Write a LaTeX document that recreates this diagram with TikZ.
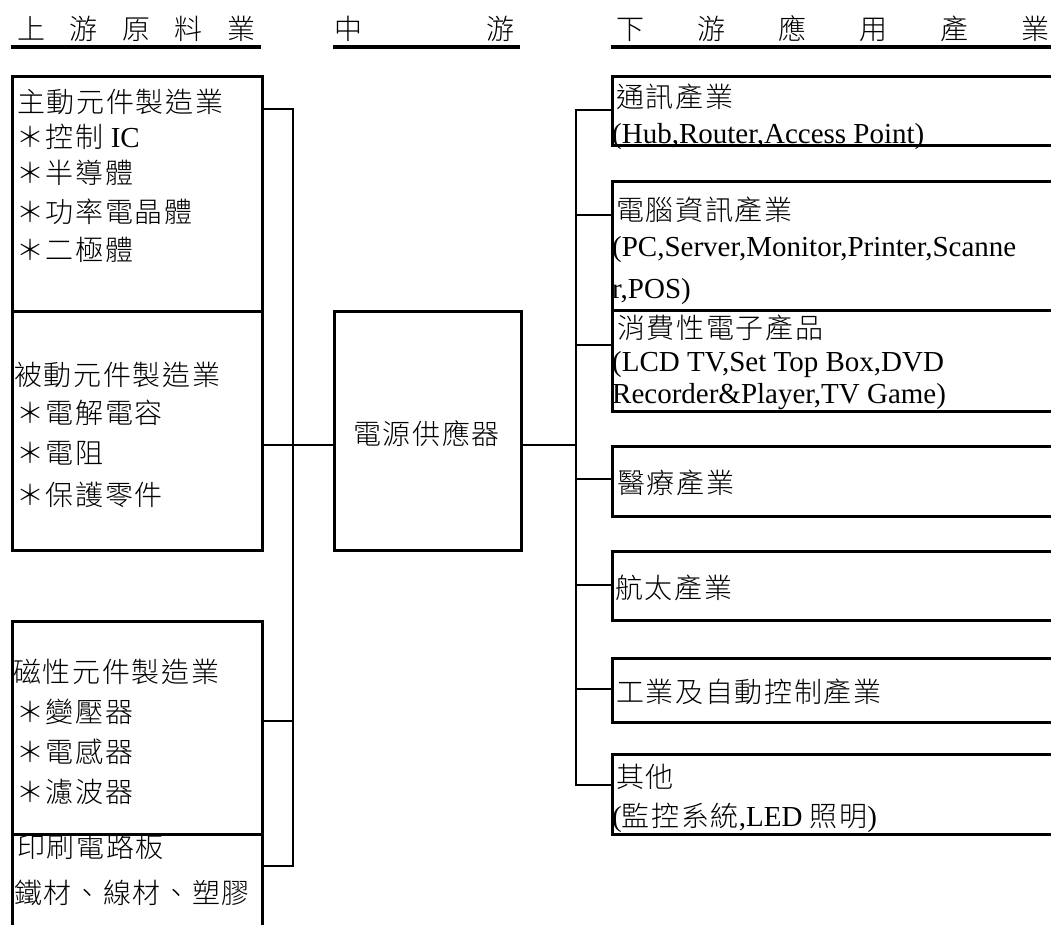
\documentclass[tikz,border=0pt]{standalone}
\usepackage{fontspec}
\setmainfont{Liberation Serif}
\newfontfamily\cjk{Noto Sans CJK TC}[UprightFont=* Light, LetterSpace=6]
\usetikzlibrary{calc}
\newcommand\fsz{\fontsize{29}{29}\selectfont}
\newcommand\zsz{\fontsize{28}{28}\selectfont}
\newcommand\zh[1]{{\zsz\cjk #1}}
\tikzset{
  boxs/.style={draw, line width=2.6pt, rectangle, inner sep=0pt, anchor=north west},
  txt/.style={anchor=base west, inner sep=0pt, font=\fsz},
  conn/.style={line width=2.6pt},
  uline/.style={line width=3.2pt}
}
\begin{document}
\begin{tikzpicture}[x=1pt,y=-1pt]
\clip (0,0) rectangle (1051,924);
\useasboundingbox (0,0) rectangle (1051,924);
\fill[white] (0,0) rectangle (1051,924);
% headers
\node[txt] (h1) at (17,39) {\makebox[238pt]{\zh{上}\hfill\zh{游}\hfill\zh{原}\hfill\zh{料}\hfill\zh{業}}};
\node[txt] (h2) at (334,39) {\makebox[180pt]{\zh{中}\hfill\zh{游}}};
\node[txt] (h3) at (616,39) {\makebox[433pt]{\zh{下}\hfill\zh{游}\hfill\zh{應}\hfill\zh{用}\hfill\zh{產}\hfill\zh{業}}};
\coordinate (u1a) at (11,47); \coordinate (u1b) at (261,47);
\coordinate (u2a) at (333,47); \coordinate (u2b) at (520,47);
\coordinate (u3a) at (611,47); \coordinate (u3b) at (1055,47);
\draw[uline] (u1a) -- (u1b);
\draw[uline] (u2a) -- (u2b);
\draw[uline] (u3a) -- (u3b);
% left boxes
\node[boxs, minimum width=250pt, minimum height=235pt] (L1) at (11,75) {};
\node[boxs, minimum width=250pt, minimum height=239pt] (L2) at (11,310) {};
\node[boxs, minimum width=250pt, minimum height=213pt] (L3) at (11,620) {};
\node[boxs, minimum width=250pt, minimum height=110pt] (L4) at (11,833) {};
% middle box
\node[boxs, minimum width=187pt, minimum height=239pt] (M) at (333,310) {};
% right boxes
\node[boxs, minimum width=460pt, minimum height=69pt] (R1) at (611,75) {};
\node[boxs, minimum width=460pt, minimum height=129pt] (R2) at (611,180) {};
\node[boxs, minimum width=460pt, minimum height=101pt] (R3) at (611,309) {};
\node[boxs, minimum width=460pt, minimum height=70pt] (R4) at (611,445) {};
\node[boxs, minimum width=460pt, minimum height=69pt] (R5) at (611,550) {};
\node[boxs, minimum width=460pt, minimum height=64pt] (R6) at (611,657) {};
\node[boxs, minimum width=460pt, minimum height=80pt] (R7) at (611,753) {};
% left texts
\node[txt] (t11) at (17,112) {\zh{主動元件製造業}};
\node[txt] (t12) at (16,147) {\zh{＊控制} IC};
\node[txt] (t13) at (16,183) {\zh{＊半導體}};
\node[txt] (t14) at (16,222) {\zh{＊功率電晶體}};
\node[txt] (t15) at (16,260) {\zh{＊二極體}};
\node[txt] (t21) at (14,385) {\zh{被動元件製造業}};
\node[txt] (t22) at (16,423) {\zh{＊電解電容}};
\node[txt] (t23) at (16,463) {\zh{＊電阻}};
\node[txt] (t24) at (16,505) {\zh{＊保護零件}};
\node[txt] (t31) at (13,682) {\zh{磁性元件製造業}};
\node[txt] (t32) at (16,722) {\zh{＊變壓器}};
\node[txt] (t33) at (16,762) {\zh{＊電感器}};
\node[txt] (t34) at (16,802) {\zh{＊濾波器}};
\node[txt] (t41) at (17,857) {\zh{印刷電路板}};
\node[txt] (t42) at (14,903) {\zh{鐵材、線材、塑膠}};
% middle text
\node[txt, anchor=base] (tm) at (426.5,444) {\zh{電源供應器}};
% right texts
\node[txt] (r11) at (616,107) {\zh{通訊產業}};
\node[txt] (r12) at (612,143) {(Hub,Router,Access Point)};
\node[txt] (r21) at (616,220) {\zh{電腦資訊產業}};
\node[txt] (r22) at (612,256) {(PC,Server,Monitor,Printer,Scanne};
\node[txt] (r23) at (612,298) {r,POS)};
\node[txt] (r31) at (617,338) {\zh{消費性電子產品}};
\node[txt] (r32) at (612,371) {(LCD TV,Set Top Box,DVD};
\node[txt] (r33) at (612,403) {Recorder\&Player,TV Game)};
\node[txt] (r41) at (617,493) {\zh{醫療產業}};
\node[txt] (r51) at (615,598) {\zh{航太產業}};
\node[txt] (r61) at (616,702) {\zh{工業及自動控制產業}};
\node[txt] (r71) at (616,787) {\zh{其他}};
\node[txt] (r72) at (612,826) {(\zh{監控系統},LED \zh{照明})};
% left bus
\coordinate (lbT) at (293,109);
\coordinate (lbB) at (293,866);
\coordinate (lb3) at (293,721);
\coordinate (mj) at (293,445);
\draw[conn] (L1.east |- lbT) -- (lbT) -- (lbB) -- (L4.east |- lbB);
\draw[conn] (L3.east |- lb3) -- (lb3);
\draw[conn] (L2.east |- mj) -- (M.west |- mj);
% right bus
\coordinate (rbT) at (576,110);
\coordinate (rbB) at (576,785);
\coordinate (rb2) at (576,215);
\coordinate (rb3) at (576,345);
\coordinate (rb4) at (576,479);
\coordinate (rb5) at (576,585);
\coordinate (rb6) at (576,689);
\coordinate (rbm) at (576,445);
\draw[conn] (R1.west |- rbT) -- (rbT) -- (rbB) -- (R7.west |- rbB);
\draw[conn] (rb2) -- (R2.west |- rb2);
\draw[conn] (rb3) -- (R3.west |- rb3);
\draw[conn] (rb4) -- (R4.west |- rb4);
\draw[conn] (rb5) -- (R5.west |- rb5);
\draw[conn] (rb6) -- (R6.west |- rb6);
\draw[conn] (M.east |- mj) -- (rbm);
\end{tikzpicture}
\end{document}
